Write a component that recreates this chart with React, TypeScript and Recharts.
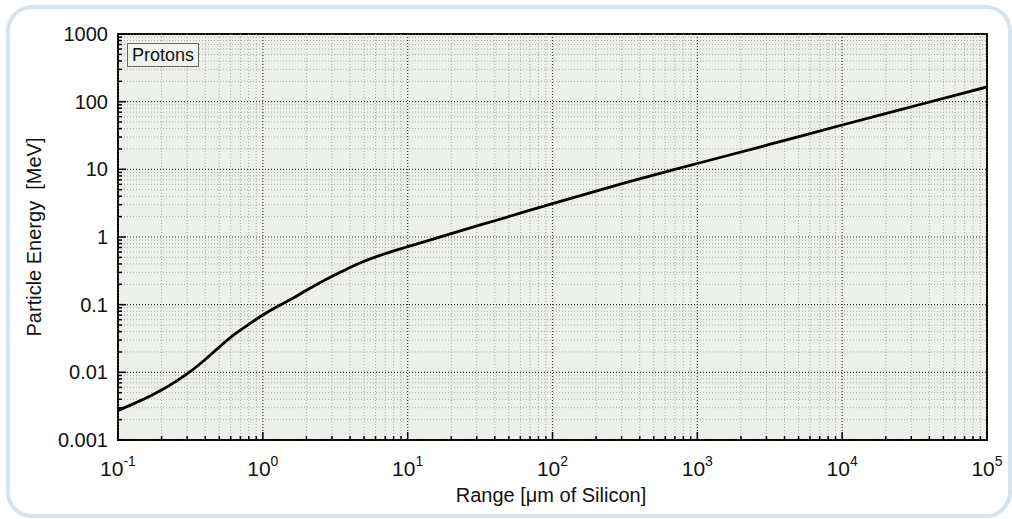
import React from 'react';
import { LineChart, Line, XAxis, YAxis, CartesianGrid, ReferenceLine, ReferenceArea } from 'recharts';

// proton range in silicon (um) vs particle energy (MeV)
const rangeUm = [0.1, 0.125, 0.16, 0.2, 0.25, 0.32, 0.4, 0.5, 0.63, 0.8, 1, 1.25, 1.6, 2, 2.5, 3.2, 4, 5, 6.3, 8, 10, 16, 25, 40, 63, 100, 320, 1000, 3200, 10000, 32000, 100000];
const energyMeV = [0.00272, 0.00336, 0.0043, 0.0055, 0.0073, 0.0105, 0.0155, 0.0236, 0.0358, 0.0512, 0.0703, 0.093, 0.123, 0.163, 0.213, 0.28, 0.355, 0.438, 0.527, 0.622, 0.72, 0.97, 1.3, 1.74, 2.33, 3.12, 6.35, 12.2, 23.5, 45.2, 87, 165];

const xDecades = [0.1, 1, 10, 100, 1000, 10000, 100000];
const yDecades = [0.001, 0.01, 0.1, 1, 10, 100, 1000];
const minorSteps = [2, 3, 4, 5, 6, 7, 8, 9];

const data = rangeUm.map((r, i) => ({ range: r, energy: energyMeV[i] }));

const minorOf = (decades: number[]) =>
  decades.slice(0, -1).flatMap((d) => minorSteps.map((m) => +(d * m).toPrecision(6)));

const xMinor = minorOf(xDecades);
const yMinor = minorOf(yDecades);
const xTicks = [...xDecades, ...xMinor].sort((a, b) => a - b);
const yTicks = [...yDecades, ...yMinor].sort((a, b) => a - b);

const isMajor = (v: number) => {
  const l = Math.log10(v);
  return Math.abs(l - Math.round(l)) < 1e-6;
};

const FONT = 'Arial, "Liberation Sans", sans-serif';

const XTick = (props: any) => {
  const { x, y, payload } = props;
  const v = payload.value;
  const major = isMajor(v);
  return (
    <g>
      <line x1={x} x2={x} y1={y} y2={y - (major ? 8 : 4)} stroke="#000" strokeWidth={1.5} />
      {major && (
        <text x={x} y={y + 36} textAnchor="middle" fontSize={21} fontFamily={FONT} fill="#111">
          <tspan>10</tspan>
          <tspan dy={-10} fontSize={14}>{Math.round(Math.log10(v))}</tspan>
        </text>
      )}
    </g>
  );
};

const YTick = (props: any) => {
  const { x, y, payload } = props;
  const v = payload.value;
  const major = isMajor(v);
  return (
    <g>
      <line x1={x} x2={x + (major ? 8 : 4)} y1={y} y2={y} stroke="#000" strokeWidth={1.5} />
      {major && (
        <text x={x - 10} y={y} dy={7} textAnchor="end" fontSize={20} fontFamily={FONT} fill="#111">
          {String(v)}
        </text>
      )}
    </g>
  );
};

export default function App() {
  return (
    <div style={{ position: 'absolute', left: 0, top: 0, width: 1012, height: 519, background: '#fff', fontFamily: FONT }}>
      <div
        style={{
          position: 'absolute',
          left: 6,
          top: 5,
          width: 1006,
          height: 513,
          boxSizing: 'border-box',
          border: '4px solid #d7e3ed',
          borderRadius: 26,
        }}
      />
      <LineChart width={1012} height={519} data={data} margin={{ top: 34, right: 25, left: 38, bottom: 0 }}>
        <CartesianGrid fill="#edf0ea" horizontal={false} vertical={false} />
        {xMinor.map((v) => (
          <ReferenceLine key={'xm' + v} x={v} stroke="#a9ada6" strokeDasharray="1 2" strokeWidth={1} />
        ))}
        {yMinor.map((v) => (
          <ReferenceLine key={'ym' + v} y={v} stroke="#a9ada6" strokeDasharray="1 2" strokeWidth={1} />
        ))}
        {xDecades.map((v) => (
          <ReferenceLine key={'xM' + v} x={v} stroke="#3c3c3c" strokeDasharray="1 2" strokeWidth={1.2} />
        ))}
        {yDecades.map((v) => (
          <ReferenceLine key={'yM' + v} y={v} stroke="#3c3c3c" strokeDasharray="1 2" strokeWidth={1.2} />
        ))}
        <XAxis
          dataKey="range"
          type="number"
          scale="log"
          domain={[0.1, 100000]}
          ticks={xTicks}
          interval={0}
          tickLine={false}
          tickSize={0}
          tickMargin={0}
          axisLine={false}
          height={79}
          tick={<XTick />}
          allowDataOverflow
        />
        <YAxis
          dataKey="energy"
          type="number"
          scale="log"
          domain={[0.001, 1000]}
          ticks={yTicks}
          interval={0}
          tickLine={false}
          tickSize={0}
          tickMargin={0}
          axisLine={false}
          width={80}
          tick={<YTick />}
          allowDataOverflow
        />
        <Line
          type="monotone"
          dataKey="energy"
          stroke="#000"
          strokeWidth={2.8}
          dot={false}
          isAnimationActive={false}
        />
        <ReferenceArea
          x1={0.1}
          x2={100000}
          y1={0.001}
          y2={1000}
          fill="none"
          fillOpacity={0}
          stroke="#000"
          strokeWidth={2}
        />
      </LineChart>
      <div
        style={{
          position: 'absolute',
          left: 127,
          top: 43,
          width: 72,
          height: 24,
          boxSizing: 'border-box',
          border: '1px solid #666',
          background: '#f1f3ef',
          fontSize: 18,
          lineHeight: '22px',
          textAlign: 'center',
          color: '#111',
        }}
      >
        Protons
      </div>
      <div
        style={{
          position: 'absolute',
          left: 551,
          top: 495,
          transform: 'translate(-50%, -50%)',
          fontSize: 20,
          whiteSpace: 'pre',
          color: '#111',
        }}
      >
        Range [μm of Silicon]
      </div>
      <div
        style={{
          position: 'absolute',
          left: 34,
          top: 237,
          transform: 'translate(-50%, -50%) rotate(-90deg)',
          fontSize: 20,
          whiteSpace: 'pre',
          color: '#111',
        }}
      >
        Particle Energy  [MeV]
      </div>
    </div>
  );
}
